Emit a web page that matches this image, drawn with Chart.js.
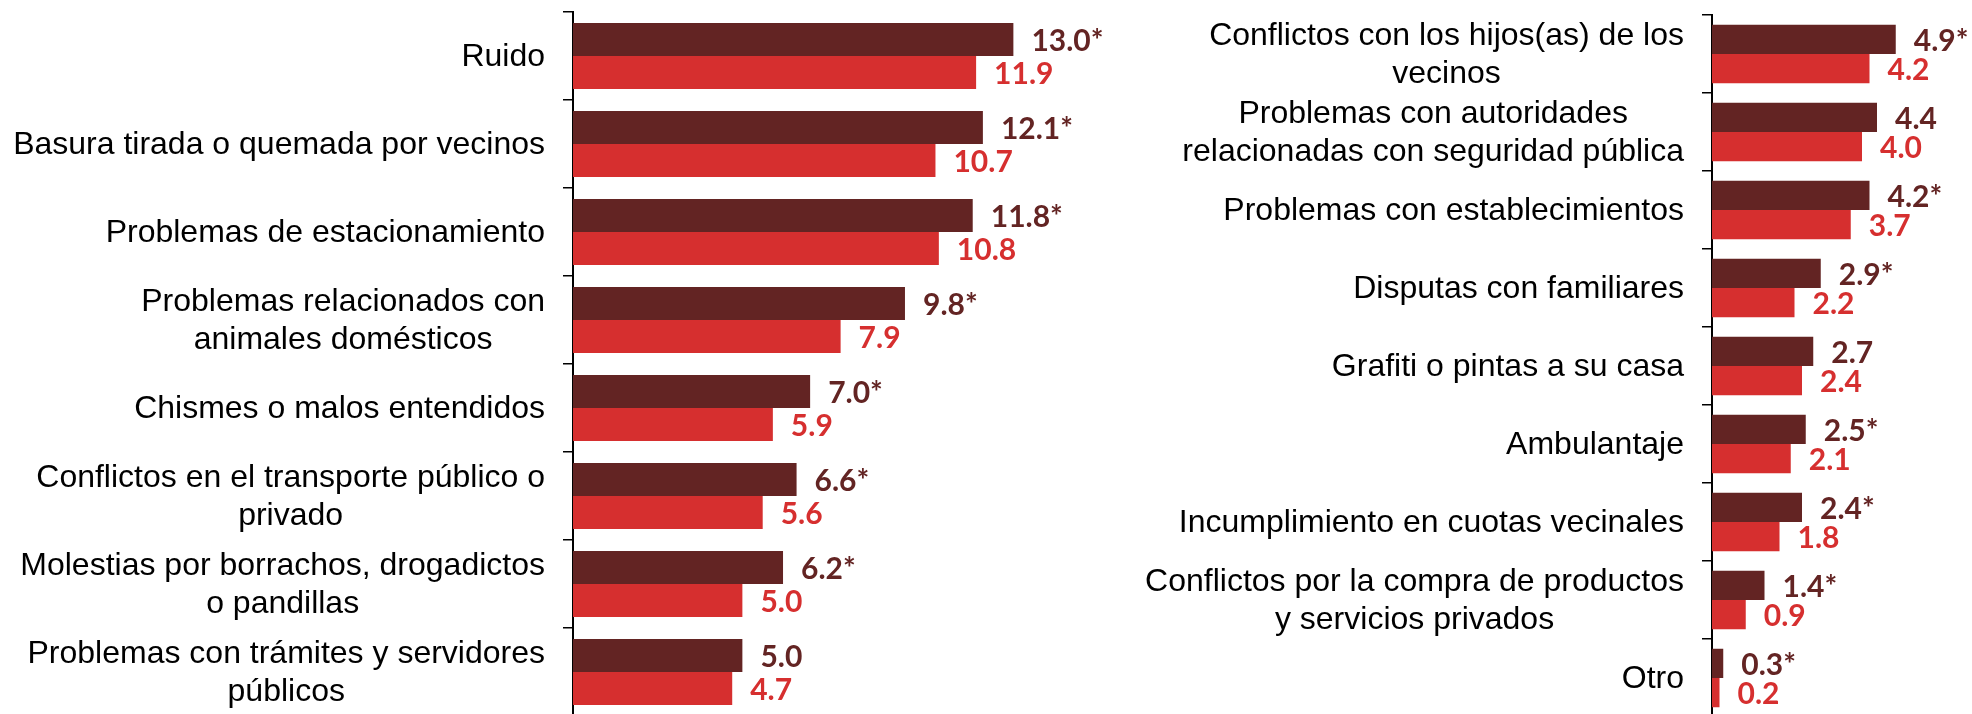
<!DOCTYPE html>
<html lang="es">
<head>
<meta charset="utf-8">
<title>Conflictos vecinales</title>
<script src="https://cdn.jsdelivr.net/npm/chart.js@4.4.1/dist/chart.umd.min.js"></script>
<style>
  html, body { margin: 0; padding: 0; background: #fff; }
  body { width: 1972px; height: 714px; overflow: hidden; position: relative; }
  canvas { position: absolute; top: 0; }
  #chart-left { left: 0; }
  #chart-right { left: 1140px; }
</style>
</head>
<body>
<canvas id="chart-left" width="1140" height="720"></canvas>
<canvas id="chart-right" width="832" height="720"></canvas>
<script>
// left panel
const leftCategories = [
    ["Ruido"],
    ["Basura tirada o quemada por vecinos"],
    ["Problemas de estacionamiento"],
    ["Problemas relacionados con", "animales domésticos"],
    ["Chismes o malos entendidos"],
    ["Conflictos en el transporte público o", "privado"],
    ["Molestias por borrachos, drogadictos", "o pandillas"],
    ["Problemas con trámites y servidores", "públicos"]
];
const leftSerie1 = [13.0, 12.1, 11.8, 9.8, 7.0, 6.6, 6.2, 5.0];
const leftSerie2 = [11.9, 10.7, 10.8, 7.9, 5.9, 5.6, 5.0, 4.7];
const leftStar = [true, true, true, true, true, true, true, false];

// right panel
const rightCategories = [
    ["Conflictos con los hijos(as) de los", "vecinos"],
    ["Problemas con autoridades", "relacionadas con seguridad pública"],
    ["Problemas con establecimientos"],
    ["Disputas con familiares"],
    ["Grafiti o pintas a su casa"],
    ["Ambulantaje"],
    ["Incumplimiento en cuotas vecinales"],
    ["Conflictos por la compra de productos", "y servicios privados"],
    ["Otro"]
];
const rightSerie1 = [4.9, 4.4, 4.2, 2.9, 2.7, 2.5, 2.4, 1.4, 0.3];
const rightSerie2 = [4.2, 4.0, 3.7, 2.2, 2.4, 2.1, 1.8, 0.9, 0.2];
const rightStar = [true, false, true, true, false, true, true, true, true];

const DARK = '#632423';
const RED = '#D62F2F';

// category names, right-aligned block with centred lines
const categoryLabels = {
    id: 'categoryLabels',
    afterDraw(chart, args, opts) {
        const ctx = chart.ctx;
        const y = chart.scales.y;
        const right = chart.chartArea.left - 28;
        ctx.save();
        ctx.font = '32px "Liberation Sans", Arial, sans-serif';
        ctx.fillStyle = '#000';
        ctx.textAlign = 'center';
        ctx.textBaseline = 'middle';
        opts.labels.forEach(function (lines, i) {
            const cy = y.getPixelForValue(i) + 1;
            const w = Math.max(...lines.map(l => ctx.measureText(l).width));
            const cx = right - w / 2;
            lines.forEach(function (line, j) {
                ctx.fillText(line, cx, cy + (j - (lines.length - 1) / 2) * 38);
            });
        });
        ctx.restore();
    }
};

// value labels next to each bar
const valueLabels = {
    id: 'valueLabels',
    afterDatasetsDraw(chart, args, opts) {
        const ctx = chart.ctx;
        ctx.save();
        ctx.font = 'bold 30px Lato, "Open Sans", sans-serif';
        ctx.textAlign = 'left';
        ctx.textBaseline = 'middle';
        chart.data.datasets.forEach(function (ds, d) {
            const meta = chart.getDatasetMeta(d);
            ctx.fillStyle = ds.backgroundColor;
            meta.data.forEach(function (bar, i) {
                let txt = ds.data[i].toFixed(1);
                if (d === 0 && opts.stars[i]) txt += '*';
                ctx.fillText(txt, bar.x + 18, bar.y + 2);
            });
        });
        ctx.restore();
    }
};

function makeChart(id, cats, s1, s2, stars, axisWidth, xMax, pad) {
    return new Chart(document.getElementById(id), {
        type: 'bar',
        data: {
            labels: cats.map(c => c.join(' ')),
            datasets: [
                { label: 'Serie 1', data: s1, backgroundColor: DARK },
                { label: 'Serie 2', data: s2, backgroundColor: RED }
            ]
        },
        options: {
            indexAxis: 'y',
            responsive: false,
            animation: false,
            events: [],
            categoryPercentage: 0.75,
            barPercentage: 1,
            layout: { padding: pad },
            scales: {
                x: { display: false, min: 0, max: xMax },
                y: {
                    offset: true,
                    ticks: { display: false },
                    grid: {
                        offset: true,
                        drawOnChartArea: false,
                        drawTicks: true,
                        tickLength: 10,
                        color: '#000',
                        lineWidth: 1.5
                    },
                    border: { display: true, color: '#000', width: 2 },
                    afterFit(scale) { scale.width = axisWidth; }
                }
            },
            plugins: {
                legend: { display: false },
                tooltip: { enabled: false },
                categoryLabels: { labels: cats },
                valueLabels: { stars: stars }
            }
        },
        plugins: [categoryLabels, valueLabels]
    });
}

makeChart('chart-left', leftCategories, leftSerie1, leftSerie2, leftStar,
    573, 16, { top: 12, bottom: 4, left: 0, right: 25 });
makeChart('chart-right', rightCategories, rightSerie1, rightSerie2, rightStar,
    572, 6, { top: 15, bottom: 3, left: 0, right: 35 });
</script>
</body>
</html>
